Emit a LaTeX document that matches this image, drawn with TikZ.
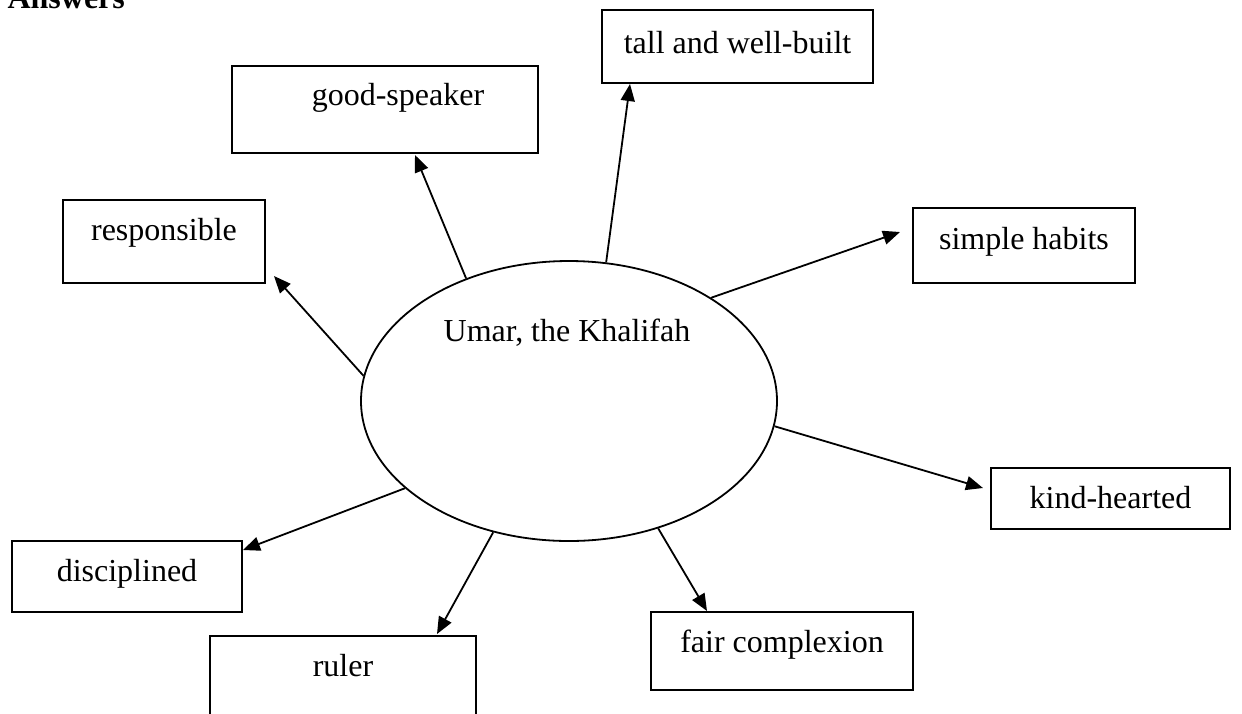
\documentclass[tikz,border=0pt]{standalone}
\usepackage{fontspec}
\setmainfont{Liberation Serif}
\usepackage{tikz}
\usetikzlibrary{arrows.meta, shapes.geometric, positioning}
\tikzset{
	>={Triangle[length=8.5pt, width=7pt]},
	every node/.style={font=\fontsize{16}{19}\selectfont},
	trait/.style={draw, rectangle, inner sep=0pt, outer sep=0pt, anchor=north west},
}

\begin{document}
\begin{tikzpicture}[x=0.5pt, y=-0.5pt, line width=0.9pt]
			\useasboundingbox (0,0) rectangle (1242,713);
			\node[anchor=base west, font=\fontsize{16}{19}\selectfont\bfseries] (answers) at (0,8) {Answers};
			\node[draw, ellipse, minimum width=208pt, minimum height=140pt, inner sep=0pt] (umar) at (569,401) {};
			\node[anchor=base] (umartxt) at (567,341) {Umar, the Khalifah};
			
			\node[trait, minimum width=101pt, text height=20pt, text depth=21.5pt] (resp) at (63,200) {responsible};
			\node[trait, minimum width=153pt, text height=19.5pt, text depth=24pt] (good) at (232,66) {\hspace{13pt}good-speaker};
			\node[trait, minimum width=135.5pt, text height=21.5pt, text depth=15pt] (tall) at (602,10) {tall and well-built};
			\node[trait, minimum width=111pt, text height=20.5pt, text depth=17pt] (simple) at (913,208) {simple habits};
			\node[trait, minimum width=119.5pt, text height=20pt, text depth=10.5pt] (kind) at (991,468) {kind-hearted\hspace{10pt}};
			\node[trait, minimum width=115pt, text height=20pt, text depth=15.5pt] (disc) at (12,541) {disciplined};
			\node[trait, minimum width=133pt, text height=20pt, text depth=25pt] (ruler) at (210,636) {ruler};
			\node[trait, minimum width=131pt, text height=20pt, text depth=19pt] (fair) at (651,612) {fair complexion};
			
			
			\draw (umar.173) edge[->] ([shift={(9,-7)}]resp.south east);
			\draw (umar.130) edge[->] ([shift={(30,2)}]good.south);
			\draw (umar.75) edge[->] ([shift={(28,1)}]tall.south west);
			\draw (umar.36) edge[->] ([shift={(-13,-13.5)}]simple.west);
			\draw (umar.-7) edge[->] ([shift={(-8,-10.5)}]kind.west);
			\draw (umar.208) edge[->] ([shift={(1,9)}]disc.north east);
			\draw (umar.240) edge[->] ([shift={(-39,-2)}]ruler.north east);
			\draw (umar.-55) edge[->] ([shift={(56,-1)}]fair.north west);
		\end{tikzpicture}
\end{document}
